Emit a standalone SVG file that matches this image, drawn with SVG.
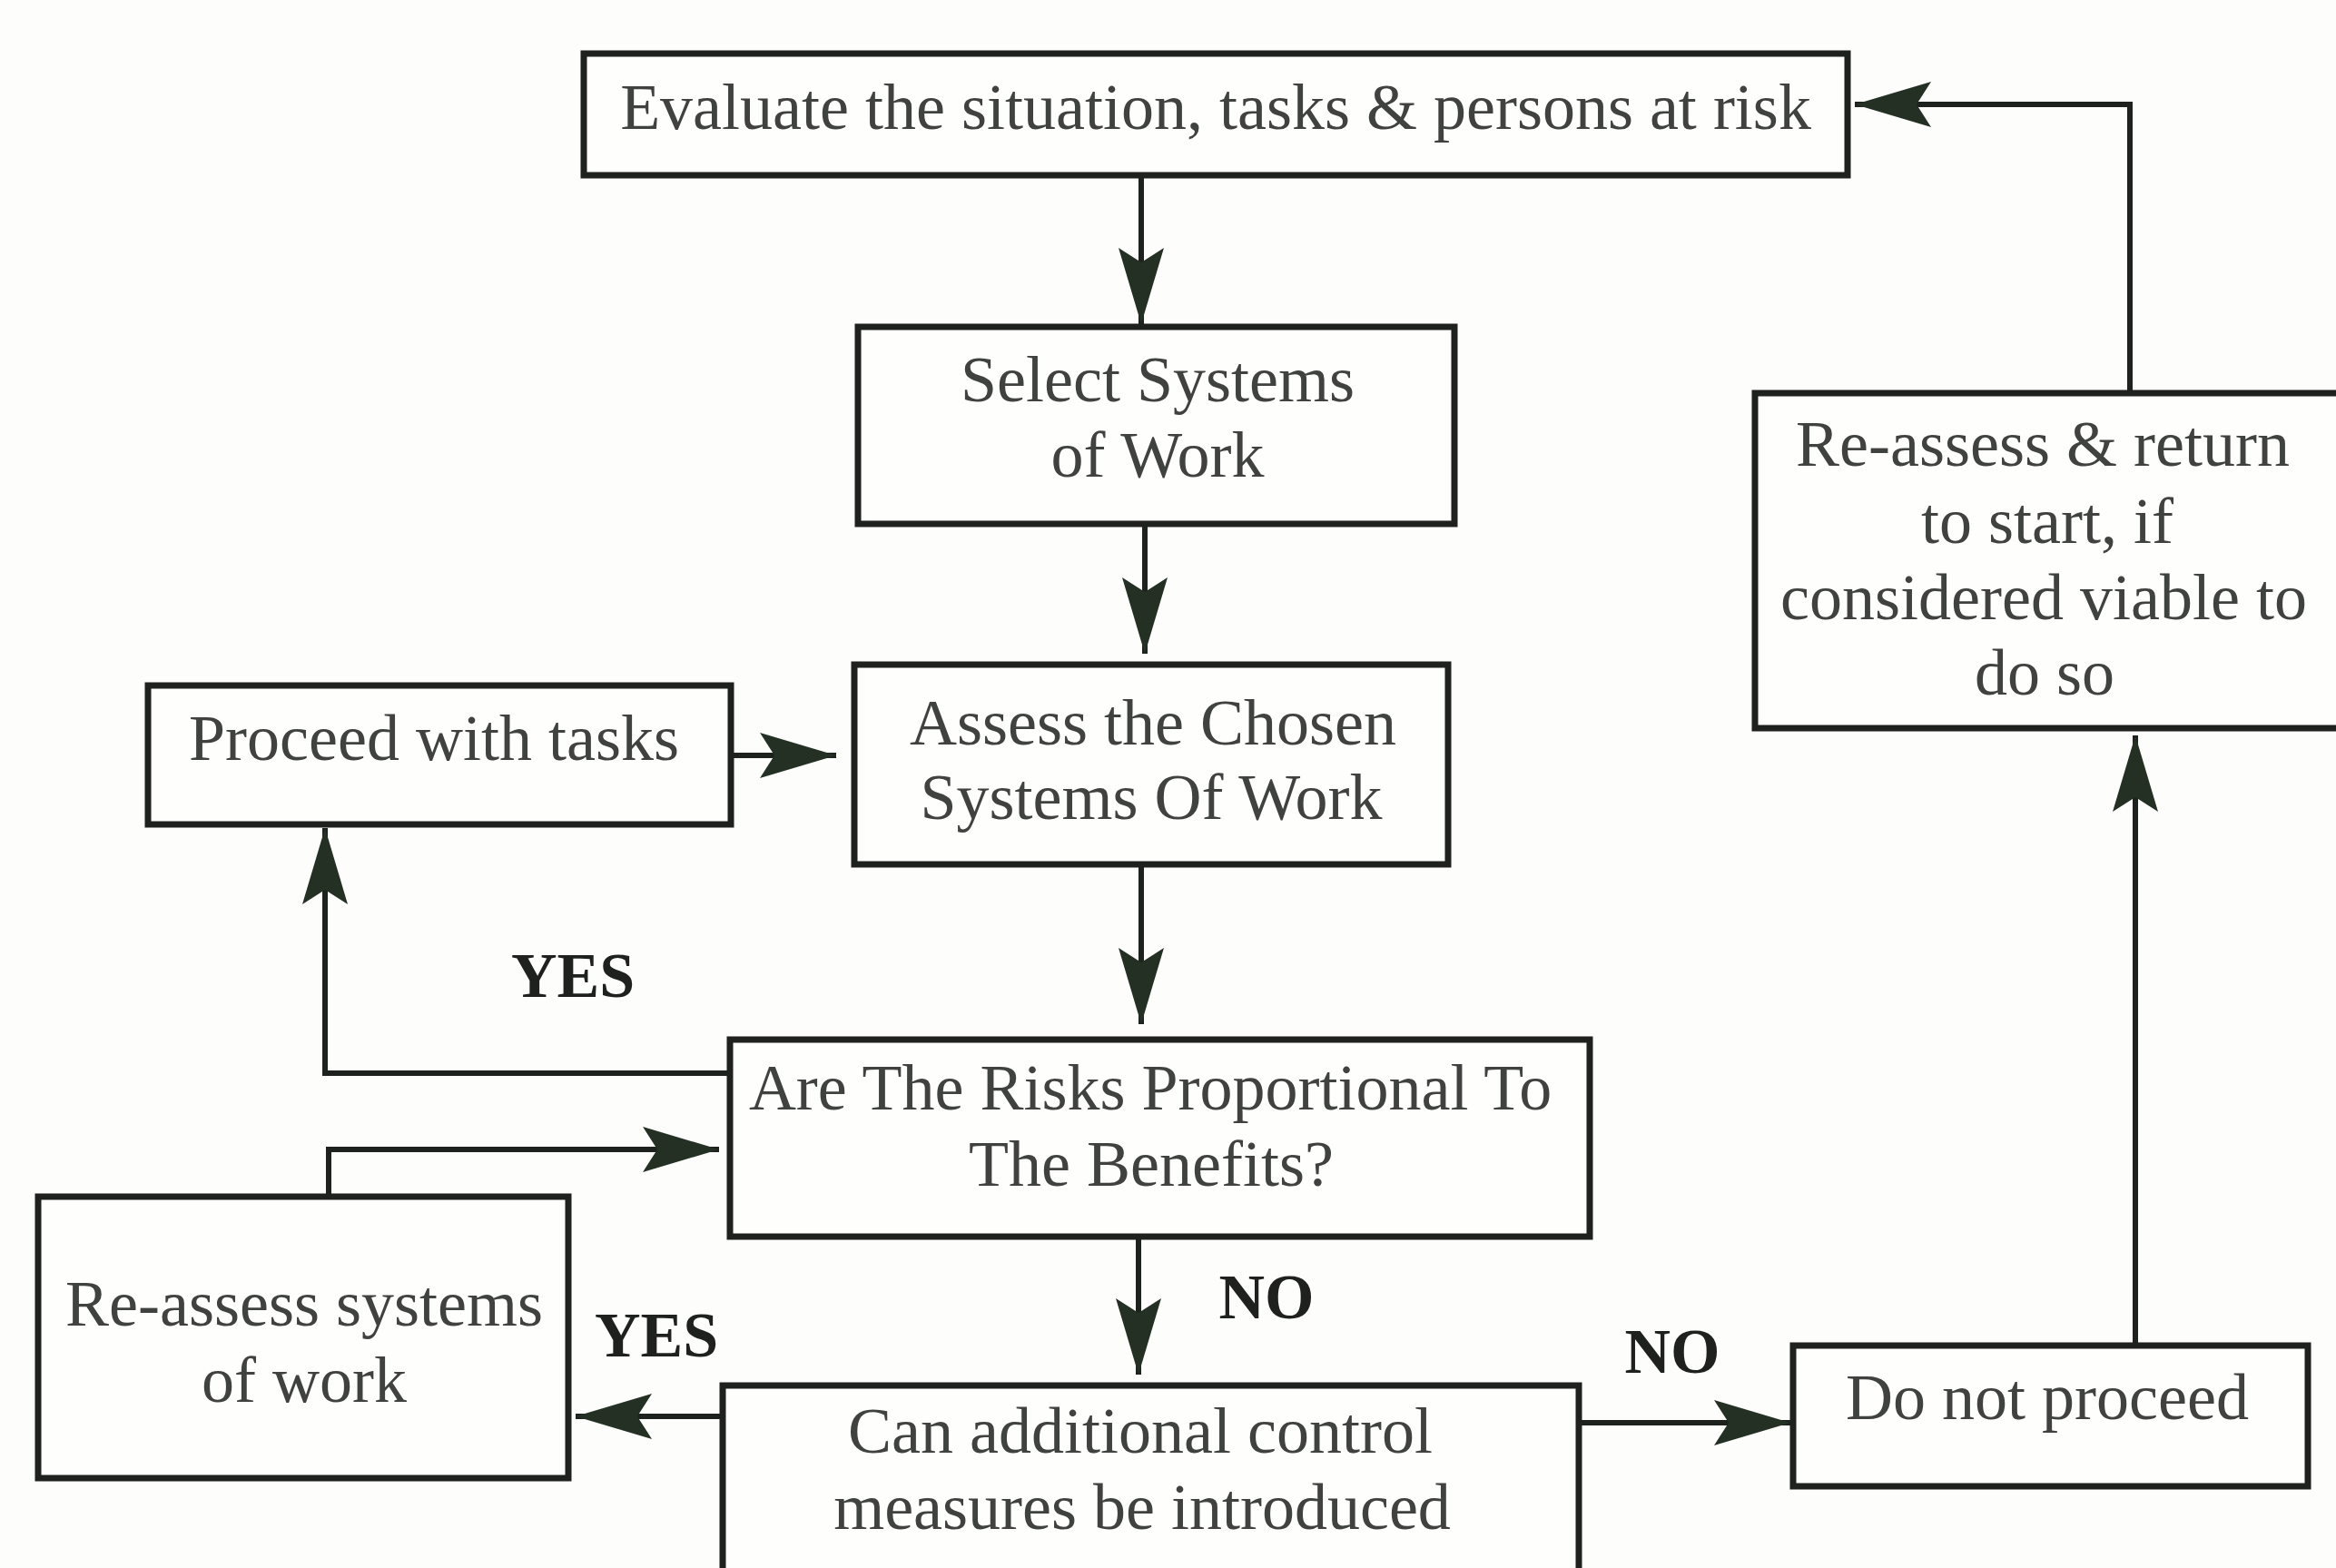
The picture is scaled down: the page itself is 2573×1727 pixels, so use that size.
<svg xmlns="http://www.w3.org/2000/svg" width="2573" height="1727" viewBox="0 0 2573 1727">
<style>
.box{fill:#fefefd;stroke:#1e211e;stroke-width:7}
.t{font-family:"Liberation Serif","Times New Roman",serif;font-size:72px;fill:#404240;text-anchor:middle}
.lbl{font-family:"Liberation Serif","Times New Roman",serif;font-size:70px;font-weight:bold;fill:#1e211e;text-anchor:middle}
.c{fill:none;stroke:#1e221e;stroke-width:6;marker-end:url(#ah)}
</style>
<defs>
<marker id="ah" markerUnits="userSpaceOnUse" viewBox="-88 -28 92 56" refX="0" refY="0" markerWidth="92" markerHeight="56" orient="auto" overflow="visible">
<path d="M0,0 L-84,-25 L-68,0 L-84,25 Z" fill="#243024"/>
</marker>
</defs>
<rect width="2573" height="1727" fill="#fdfdfb"/>
<g id="connectors">
<path class="c" d="M1257,194 V357"/>
<path class="c" d="M1261,578 V720"/>
<path class="c" d="M805,832 H921"/>
<path class="c" d="M1257,952 V1128"/>
<path class="c" d="M804,1182 H358 V912"/>
<path class="c" d="M362,1318 V1266 H792"/>
<path class="c" d="M1254,1362 V1514"/>
<path class="c" d="M796,1560 H634"/>
<path class="c" d="M1739,1567 H1972"/>
<path class="c" d="M2352,1482 V810"/>
<path class="c" d="M2346,433 V115 H2043"/>
</g>
<g id="evaluate">
<rect class="box" x="643" y="59" width="1392" height="134"/>
<text class="t" x="1339" y="142">Evaluate the situation, tasks &amp; persons at risk</text>
</g>
<g id="select">
<rect class="box" x="945" y="360" width="657" height="217"/>
<text class="t" x="1275" y="442">Select Systems</text>
<text class="t" x="1275" y="525">of Work</text>
</g>
<g id="assess">
<rect class="box" x="941" y="732" width="654" height="220"/>
<text class="t" x="1270" y="820">Assess the Chosen</text>
<text class="t" x="1268" y="902">Systems Of Work</text>
</g>
<g id="proceed">
<rect class="box" x="163" y="755" width="642" height="153"/>
<text class="t" x="478" y="837">Proceed with tasks</text>
</g>
<g id="risks">
<rect class="box" x="804" y="1145" width="947" height="217"/>
<text class="t" x="1267" y="1222">Are The Risks Proportional To</text>
<text class="t" x="1268" y="1306">The Benefits?</text>
</g>
<g id="reassess-systems">
<rect class="box" x="42" y="1318" width="584" height="310"/>
<text class="t" x="335" y="1460">Re-assess systems</text>
<text class="t" x="335" y="1544">of work</text>
</g>
<g id="controls">
<rect class="box" x="796" y="1526" width="943" height="230"/>
<text class="t" x="1256" y="1600">Can additional control</text>
<text class="t" x="1258" y="1684">measures be introduced</text>
</g>
<g id="do-not-proceed">
<rect class="box" x="1975" y="1482" width="567" height="155"/>
<text class="t" x="2255" y="1563">Do not proceed</text>
</g>
<g id="reassess-return">
<rect class="box" x="1933" y="433" width="660" height="369"/>
<text class="t" x="2250" y="513">Re-assess &amp; return</text>
<text class="t" x="2255" y="598">to start, if</text>
<text class="t" x="2251" y="682">considered viable to</text>
<text class="t" x="2252" y="765">do so</text>
</g>
<g id="labels">
<text class="lbl" x="631" y="1098">YES</text>
<text class="lbl" x="723" y="1494">YES</text>
<text class="lbl" x="1395" y="1452">NO</text>
<text class="lbl" x="1842" y="1512">NO</text>
</g>
</svg>
